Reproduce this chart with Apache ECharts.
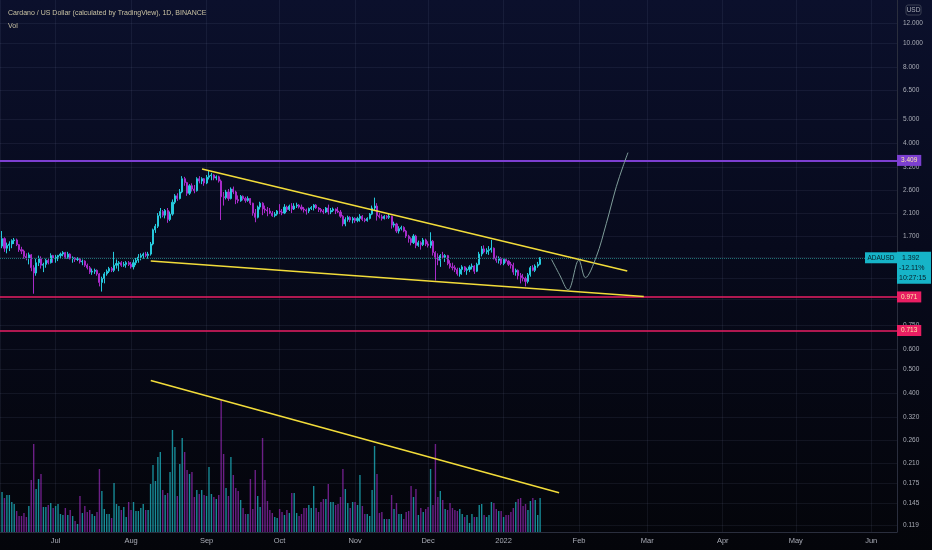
<!DOCTYPE html>
<html>
<head>
<meta charset="utf-8">
<script src="https://cdn.jsdelivr.net/npm/echarts@6/dist/echarts.min.js"></script>
<style>
html,body{margin:0;padding:0;background:#04050a;}
#c{width:932px;height:550px;background:linear-gradient(180deg,#0b102c 0%,#070a1c 45%,#04050a 100%);}
</style>
</head>
<body>
<div id="c"></div>
<script>
// ---- data (daily candles, Binance ADA/USD) ----
const startDay = [2021, 5, 9]; // 9 Jun 2021, one candle per day
const opens = [
1.55,1.66,1.52,1.56,1.58,1.63,1.64,1.57,1.50,1.48,1.41,1.39,1.43,1.27,1.21,1.33,1.38,1.30,1.31,1.36,1.33,1.42,
1.39,1.40,1.42,1.44,1.46,1.40,1.44,1.38,1.39,1.37,1.38,1.34,1.35,1.30,1.27,1.22,1.23,1.24,1.20,1.11,1.15,1.20,1.23,1.26,1.24,1.30,1.32,1.33,1.30,1.31,1.33,
1.31,1.28,1.33,1.36,1.40,1.42,1.44,1.42,1.44,1.58,1.80,1.86,2.05,2.13,2.06,2.15,1.98,2.08,2.32,2.46,2.40,2.55,2.88,2.78,2.52,2.70,2.62,2.58,2.88,2.82,2.88,
2.77,2.92,2.96,2.98,2.90,2.93,2.82,2.44,2.42,2.55,2.40,2.62,2.55,2.38,2.35,2.45,2.40,2.36,2.40,2.30,2.10,2.02,2.22,2.30,2.18,2.16,2.14,2.10,2.05,2.08,
2.14,2.12,2.10,2.22,2.17,2.24,2.18,2.24,2.26,2.22,2.18,2.16,2.14,2.19,2.21,2.26,2.20,2.17,2.14,2.12,2.20,2.12,2.15,2.18,2.14,2.12,2.04,1.90,1.98,2.02,1.97,
2.00,1.96,2.00,2.04,1.98,1.96,2.00,2.08,2.20,2.24,2.05,2.03,2.00,2.04,2.02,2.04,1.88,1.90,1.78,1.82,1.84,1.78,1.70,1.66,1.60,1.70,1.56,1.60,1.57,1.64,
1.58,1.56,1.62,1.46,1.40,1.36,1.42,1.40,1.42,1.32,1.28,1.27,1.25,1.20,1.25,1.28,1.24,1.25,1.28,1.29,1.23,1.31,1.44,1.51,1.47,1.49,1.50,1.52,1.39,1.36,1.38,
1.32,1.37,1.35,1.31,1.30,1.22,1.24,1.18,1.16,1.15,1.12,1.19,1.27,1.24,1.29,1.31
];
const highs = [
1.78,1.68,1.60,1.62,1.65,1.67,1.66,1.58,1.54,1.50,1.45,1.46,1.44,1.30,1.38,1.42,1.41,1.33,1.38,1.39,1.45,1.43,
1.43,1.43,1.46,1.48,1.47,1.47,1.45,1.41,1.40,1.40,1.39,1.37,1.36,1.32,1.29,1.26,1.26,1.25,1.21,1.17,1.22,1.25,1.28,1.28,1.47,1.37,1.35,1.35,1.34,1.35,1.35,
1.34,1.37,1.39,1.44,1.45,1.46,1.47,1.47,1.61,1.82,1.90,2.10,2.20,2.16,2.18,2.20,2.13,2.38,2.50,2.52,2.62,2.95,2.93,2.80,2.74,2.76,2.72,2.92,2.95,2.92,2.90,
2.98,3.10,3.04,3.00,2.97,2.96,2.86,2.55,2.60,2.62,2.66,2.68,2.58,2.47,2.48,2.47,2.44,2.45,2.41,2.31,2.18,2.25,2.33,2.32,2.25,2.22,2.20,2.14,2.12,2.16,
2.28,2.18,2.28,2.25,2.27,2.30,2.30,2.31,2.28,2.27,2.22,2.19,2.21,2.24,2.28,2.28,2.22,2.20,2.18,2.22,2.27,2.20,2.21,2.19,2.22,2.16,2.06,2.02,2.05,2.04,2.03,
2.02,2.03,2.08,2.06,2.01,2.02,2.10,2.25,2.42,2.30,2.10,2.07,2.06,2.06,2.09,2.05,1.94,1.92,1.86,1.87,1.86,1.80,1.72,1.68,1.73,1.72,1.63,1.62,1.67,1.66,
1.62,1.76,1.64,1.48,1.45,1.44,1.47,1.44,1.43,1.36,1.33,1.30,1.27,1.27,1.30,1.29,1.27,1.30,1.32,1.30,1.33,1.47,1.55,1.56,1.52,1.55,1.64,1.53,1.42,1.41,1.40,
1.38,1.38,1.36,1.34,1.33,1.26,1.25,1.21,1.20,1.17,1.21,1.29,1.30,1.31,1.34,1.40
];
const lows = [
1.52,1.47,1.45,1.48,1.52,1.58,1.55,1.47,1.44,1.38,1.36,1.31,1.23,1.00,1.18,1.29,1.26,1.22,1.27,1.31,1.32,1.33,
1.33,1.35,1.39,1.41,1.38,1.38,1.37,1.33,1.34,1.35,1.32,1.30,1.28,1.25,1.20,1.19,1.20,1.18,1.07,1.02,1.10,1.18,1.21,1.22,1.22,1.26,1.23,1.28,1.28,1.27,1.29,
1.26,1.25,1.30,1.33,1.36,1.38,1.40,1.38,1.42,1.56,1.75,1.83,2.00,2.02,2.00,1.92,1.95,2.05,2.28,2.35,2.38,2.52,2.70,2.46,2.48,2.56,2.52,2.56,2.76,2.74,2.70,
2.74,2.86,2.84,2.84,2.84,2.78,1.97,2.25,2.38,2.35,2.38,2.50,2.28,2.30,2.33,2.36,2.31,2.33,2.26,2.05,1.93,2.00,2.17,2.06,2.10,2.04,2.08,2.03,2.02,2.05,
2.08,2.06,2.08,2.12,2.14,2.10,2.16,2.20,2.19,2.15,2.11,2.07,2.10,2.16,2.15,2.18,2.12,2.11,2.08,2.10,2.07,2.08,2.12,2.08,2.10,2.01,1.86,1.86,1.94,1.93,1.91,
1.92,1.93,1.94,1.95,1.93,1.94,1.98,2.06,2.15,1.96,2.00,1.96,1.98,1.99,1.99,1.82,1.84,1.75,1.74,1.79,1.76,1.67,1.60,1.56,1.58,1.52,1.54,1.50,1.55,1.55,
1.53,1.52,1.42,1.13,1.30,1.28,1.38,1.34,1.30,1.26,1.24,1.22,1.18,1.17,1.19,1.22,1.19,1.22,1.25,1.20,1.22,1.30,1.41,1.45,1.44,1.43,1.46,1.37,1.33,1.32,1.30,
1.30,1.33,1.29,1.26,1.19,1.18,1.14,1.10,1.12,1.07,1.10,1.17,1.23,1.22,1.27,1.30
];
const closes = [
1.66,1.52,1.56,1.58,1.63,1.64,1.57,1.50,1.48,1.41,1.39,1.43,1.27,1.21,1.33,1.38,1.30,1.31,1.36,1.33,1.42,1.39,
1.40,1.42,1.44,1.46,1.40,1.44,1.38,1.39,1.37,1.38,1.34,1.35,1.30,1.27,1.22,1.23,1.24,1.20,1.11,1.15,1.20,1.23,1.26,1.24,1.30,1.32,1.33,1.30,1.31,1.33,1.31,
1.28,1.33,1.36,1.40,1.42,1.44,1.42,1.44,1.58,1.80,1.86,2.05,2.13,2.06,2.15,1.98,2.08,2.32,2.46,2.40,2.55,2.88,2.78,2.52,2.70,2.62,2.58,2.88,2.82,2.88,2.77,
2.92,2.96,2.98,2.90,2.93,2.82,2.44,2.42,2.55,2.40,2.62,2.55,2.38,2.35,2.45,2.40,2.36,2.40,2.30,2.10,2.02,2.22,2.30,2.18,2.16,2.14,2.10,2.05,2.08,2.14,
2.12,2.10,2.22,2.17,2.24,2.18,2.24,2.26,2.22,2.18,2.16,2.14,2.19,2.21,2.26,2.20,2.17,2.14,2.12,2.20,2.12,2.15,2.18,2.14,2.12,2.04,1.90,1.98,2.02,1.97,2.00,
1.96,2.00,2.04,1.98,1.96,2.00,2.08,2.20,2.24,2.05,2.03,2.00,2.04,2.02,2.04,1.88,1.90,1.78,1.82,1.84,1.78,1.70,1.66,1.60,1.70,1.56,1.60,1.57,1.64,1.58,
1.56,1.62,1.46,1.40,1.36,1.42,1.40,1.42,1.32,1.28,1.27,1.25,1.20,1.25,1.28,1.24,1.25,1.28,1.29,1.23,1.31,1.44,1.51,1.47,1.49,1.50,1.52,1.39,1.36,1.38,1.32,
1.37,1.35,1.31,1.30,1.22,1.24,1.18,1.16,1.15,1.12,1.19,1.27,1.24,1.29,1.31,1.392
];
const volumes = [
400,340,370,370,300,280,210,160,160,190,150,260,520,880,430,530,580,250,250,270,290,240,
260,280,180,170,240,170,220,160,110,80,360,190,260,200,220,180,160,200,630,410,230,180,180,140,490,280,260,220,250,150,300,
220,300,210,210,240,280,220,220,480,670,510,750,800,420,370,390,600,1020,850,360,680,940,800,620,580,600,350,420,380,420,370,
360,650,380,350,330,370,1320,780,440,360,750,570,440,410,320,240,180,180,530,230,620,360,250,940,520,310,220,190,150,140,
230,200,170,220,190,390,390,190,160,180,240,240,270,240,460,240,200,300,330,330,480,300,300,270,280,350,630,430,290,240,300,
300,270,570,260,180,180,160,420,860,580,190,200,130,130,130,370,230,290,180,180,130,200,210,460,350,430,170,240,200,230,
250,630,270,880,350,410,320,230,220,290,240,220,210,230,180,150,170,90,180,150,150,270,280,170,150,170,300,290,230,210,210,
150,170,170,200,240,300,330,340,260,280,220,310,340,320,170,340
];
const priceTicks = [15,12,10,8,6.5,5,4,3.2,2.6,2.1,1.7,1.4,1.15,0.95,0.75,0.6,0.5,0.4,0.32,0.26,0.21,0.175,0.145,0.119];
const levelValues = [3.409, 0.971, 0.713];
const levelColors = ['#7c3fd0', '#e91e63', '#e91e63'];
const lastLabel = ['1.392', '-12.11%', '10:27:15'];
const symbolName = 'ADAUSD';
const wedgeUpper = [['2021-08-30T03:00', 3.15], ['2022-02-20T19:00', 1.232]];
const wedgeLower = [['2021-08-09T02:00', 1.351], ['2022-02-27T14:00', 0.975]];
const volumeTrend = [['2021-08-09T02:00', 1514], ['2022-01-23T19:00', 393]];
const projection = [
['2022-01-20T16:00', 1.372], ['2022-01-24T00:00', 1.19], ['2022-01-27T12:00', 1.035], ['2022-01-31T22:00', 1.363],
['2022-02-03T14:00', 1.159], ['2022-02-08T02:00', 1.406], ['2022-02-12T05:00', 1.911], ['2022-02-16T07:00', 2.676],
['2022-02-19T00:00', 3.216], ['2022-02-21T02:00', 3.662]
];
const monthNames = ['Jan','Feb','Mar','Apr','May','Jun','Jul','Aug','Sep','Oct','Nov','Dec'];
const xRange = ['2021-06-08T10:48', '2022-06-11T07:00'];
const priceRange = [0.1117, 14.91];
const volumeMax = 5320;

// ---- style ----
const UP = '#26c9dc', DOWN = '#a82bc8', VUP = '#178a96', VDOWN = '#6c1f86';
const GRID = 'rgba(140,150,190,0.10)';
const TXT = '#a9acb6';
const FONT = "'Liberation Sans', Arial, sans-serif";

const toT = s => new Date(s).getTime();
const dates = closes.map((_, i) => new Date(startDay[0], startDay[1], startDay[2] + i).getTime());
const candleData = dates.map((t, i) => [t, opens[i], closes[i], lows[i], highs[i]]);
const volData = dates.map((t, i) => ({
  value: [t, volumes[i]],
  itemStyle: { color: closes[i] >= opens[i] ? VUP : VDOWN }
}));
const pts = arr => arr.map(p => [toT(p[0]), p[1]]);
const lastClose = closes[closes.length - 1];
const fmt3 = v => Number(v).toFixed(3);

const chart = echarts.init(document.getElementById('c'), null, { renderer: 'canvas' });
chart.setOption({
  backgroundColor: 'transparent',
  animation: false,
  textStyle: { fontFamily: FONT },
  title: [
    { text: 'Cardano / US Dollar (calculated by TradingView), 1D, BINANCE', left: 3, top: 5,
      textStyle: { fontSize: 7, fontWeight: 'normal', color: '#c9c2a3', fontFamily: FONT } },
    { text: 'Vol', left: 3, top: 18,
      textStyle: { fontSize: 7, fontWeight: 'normal', color: '#c9c2a3', fontFamily: FONT } }
  ],
  grid: { left: 0, right: 35, top: 0, bottom: 18, containLabel: false },
  xAxis: {
    type: 'time', min: toT(xRange[0]), max: toT(xRange[1]), splitNumber: 12,
    axisLine: { show: true, lineStyle: { color: '#2a2e3d' } },
    axisTick: { show: false },
    splitLine: { show: true, lineStyle: { color: GRID, width: 1 } },
    axisLabel: {
      color: TXT, fontSize: 7.5, margin: 5, showMinLabel: false, showMaxLabel: false,
      formatter: v => { const d = new Date(v); return d.getMonth() === 0 ? String(d.getFullYear()) : monthNames[d.getMonth()]; }
    }
  },
  yAxis: [
    { type: 'log', logBase: 10, min: priceRange[0], max: priceRange[1], position: 'right',
      axisLine: { show: true, lineStyle: { color: '#2a2e3d' } }, axisTick: { show: false },
      axisLabel: { show: false }, splitLine: { show: false } },
    { type: 'value', min: 0, max: volumeMax, show: false, splitLine: { show: false } }
  ],
  series: [
    { // price grid and scale labels
      name: 'ticks', type: 'line', data: [], yAxisIndex: 0, z: 1, silent: true,
      markLine: {
        silent: true, symbol: ['none', 'none'], animation: false, precision: 4,
        lineStyle: { color: GRID, width: 1, type: 'solid' },
        label: { position: 'end', distance: 6, color: TXT, fontSize: 6.5, fontFamily: FONT,
          formatter: p => fmt3(p.value) },
        emphasis: { disabled: true },
        data: priceTicks.map(v => ({ yAxis: v }))
      }
    },
    {
      name: 'Vol', type: 'bar', xAxisIndex: 0, yAxisIndex: 1, data: volData,
      barWidth: 1.4, z: 2, silent: true
    },
    {
      name: 'ADAUSD', type: 'candlestick', data: candleData, xAxisIndex: 0, yAxisIndex: 0,
      encode: { x: 0, y: [1, 2, 3, 4] }, barWidth: 1.6, z: 3, silent: true,
      itemStyle: { color: UP, color0: DOWN, borderColor: UP, borderColor0: DOWN, borderWidth: 1 }
    },
    { // horizontal levels
      name: 'levels', type: 'line', data: [], yAxisIndex: 0, z: 4, silent: true,
      markLine: {
        silent: true, symbol: ['none', 'none'], animation: false, precision: 4,
        emphasis: { disabled: true },
        data: levelValues.map((v, i) => ({
          yAxis: v,
          lineStyle: { color: levelColors[i], width: i === 0 ? 2 : 1.5, type: 'solid' },
          label: { position: 'end', distance: 0, color: '#fbe9a6', fontSize: 6.5, fontFamily: FONT,
            backgroundColor: levelColors[i], padding: [2, 4, 2, 4],
            formatter: () => fmt3(v) }
        })).concat([{
          yAxis: lastClose,
          lineStyle: { color: '#1d6e72', width: 1, type: 'dotted' },
          label: { show: false }
        }])
      }
    },
    {
      name: 'wedgeUpper', type: 'line', data: pts(wedgeUpper), yAxisIndex: 0, symbol: 'none', z: 5, silent: true,
      lineStyle: { color: '#f2dc3a', width: 1.6 }
    },
    {
      name: 'wedgeLower', type: 'line', data: pts(wedgeLower), yAxisIndex: 0, symbol: 'none', z: 5, silent: true,
      lineStyle: { color: '#f2dc3a', width: 1.6 }
    },
    {
      name: 'volTrend', type: 'line', data: pts(volumeTrend), yAxisIndex: 1, symbol: 'none', z: 5, silent: true,
      lineStyle: { color: '#f2dc3a', width: 1.6 }
    },
    {
      name: 'projection', type: 'line', data: pts(projection), yAxisIndex: 0, symbol: 'none', z: 5, silent: true,
      smooth: 0.35, lineStyle: { color: '#7f9d9a', width: 1 }
    }
  ]
});

// price tag boxes anchored to the last close via the axis
const lastPt = chart.convertToPixel({ gridIndex: 0 }, [dates[dates.length - 1], lastClose]);
const yL = lastPt[1];
const axisX = 932 - 35;
chart.setOption({
  graphic: [
    { type: 'rect', z: 100, shape: { x: 906, y: 5, width: 15, height: 10, r: 2 },
      style: { fill: 'transparent', stroke: '#3a3f52', lineWidth: 1 } },
    { type: 'text', z: 101, x: 913.5, y: 10, style: { text: 'USD', fill: TXT, fontSize: 6.5, fontFamily: FONT, align: 'center', verticalAlign: 'middle' } },
    { type: 'rect', z: 100, shape: { x: axisX - 32, y: yL - 5.5, width: 32, height: 11 },
      style: { fill: '#16b4c8' } },
    { type: 'text', z: 101, x: axisX - 16, y: yL, style: { text: symbolName, fill: '#06202a', fontSize: 6.5, fontFamily: FONT, align: 'center', verticalAlign: 'middle' } },
    { type: 'rect', z: 100, shape: { x: axisX, y: yL - 6, width: 34, height: 32 },
      style: { fill: '#16b4c8' } },
    { type: 'text', z: 101, x: axisX + 5, y: yL, style: { text: lastLabel[0], fill: '#06202a', fontSize: 7, fontFamily: FONT, align: 'left', verticalAlign: 'middle' } },
    { type: 'text', z: 101, x: axisX + 2, y: yL + 10, style: { text: lastLabel[1], fill: '#06202a', fontSize: 7, fontFamily: FONT, align: 'left', verticalAlign: 'middle' } },
    { type: 'text', z: 101, x: axisX + 2, y: yL + 20, style: { text: lastLabel[2], fill: '#06202a', fontSize: 7, fontFamily: FONT, align: 'left', verticalAlign: 'middle' } }
  ]
});
</script>
</body>
</html>
